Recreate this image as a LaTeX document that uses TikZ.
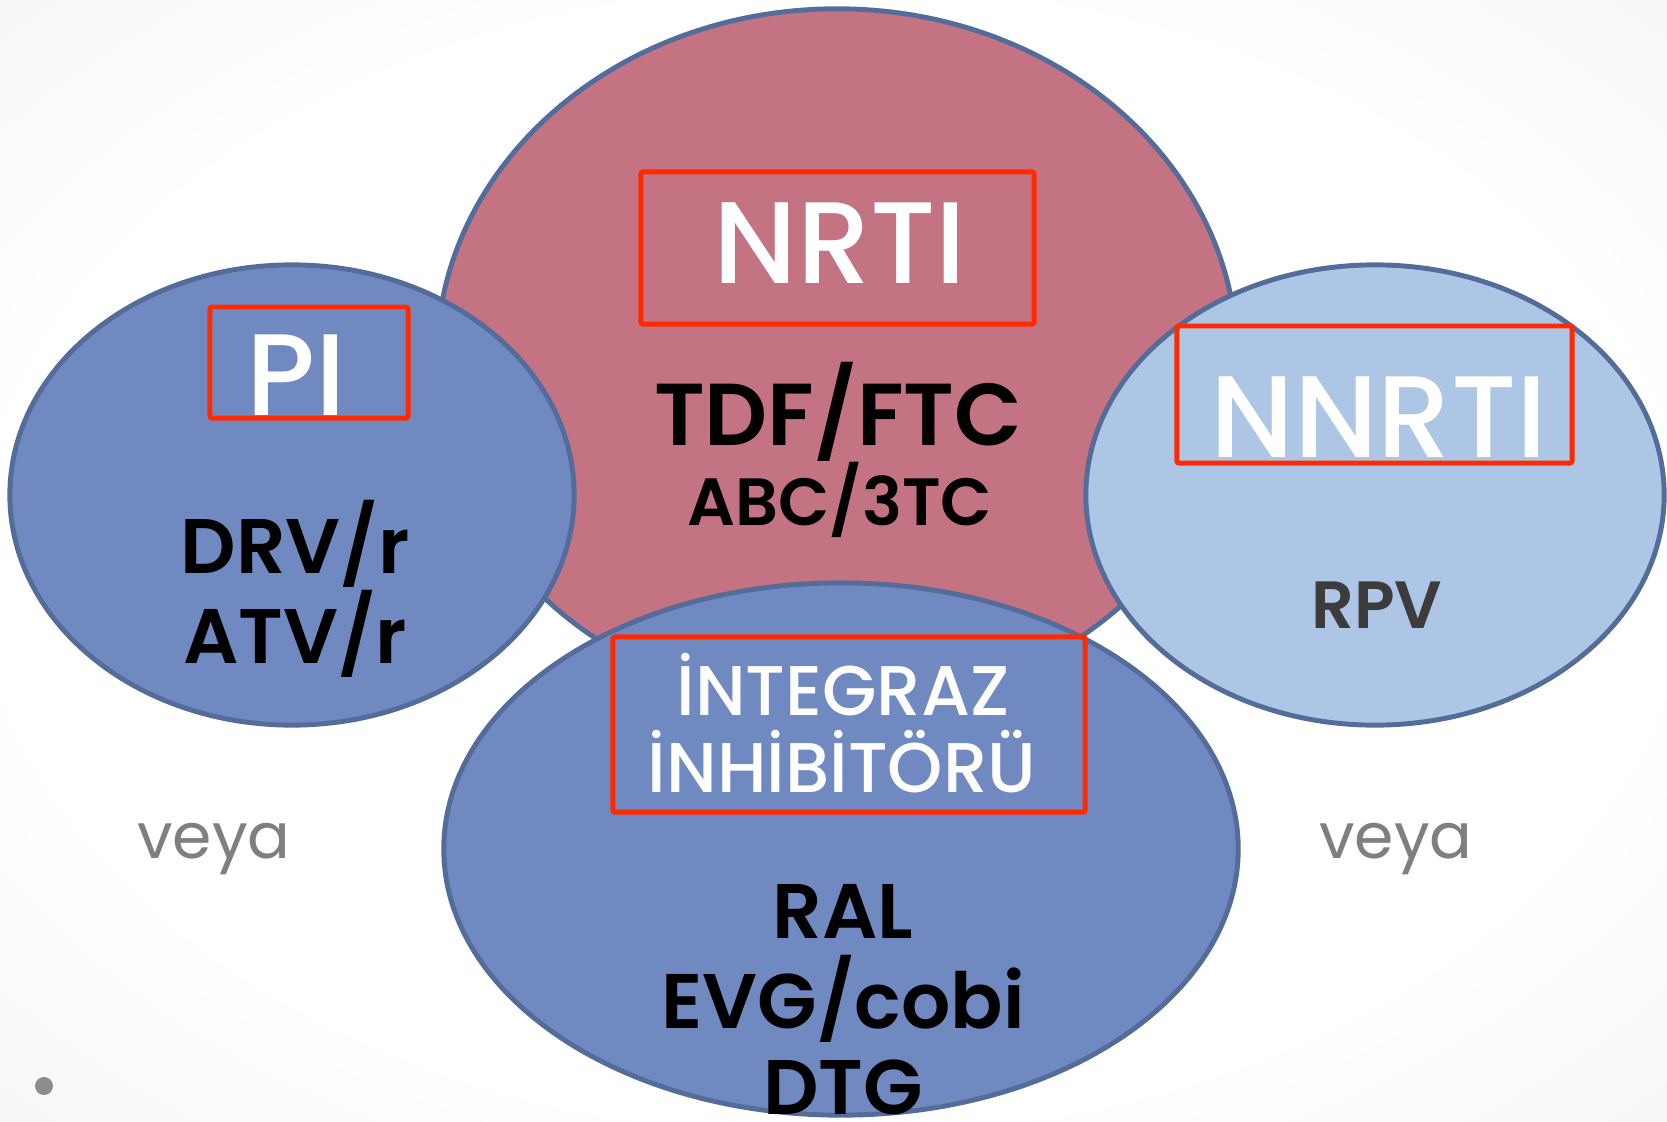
\documentclass[tikz,border=0pt]{standalone}
\usepackage{fontspec}
\setmainfont{Poppins}
\newfontfamily\medfont{Poppins Medium}
\newfontfamily\semifont{Poppins SemiBold}
\usetikzlibrary{shapes.geometric}
\definecolor{pinkE}{HTML}{C47383}
\definecolor{blueE}{HTML}{7189C1}
\definecolor{lightE}{HTML}{AEC6E6}
\definecolor{edgeE}{HTML}{546C99}
\definecolor{redB}{HTML}{FF2A00}
\definecolor{darkT}{HTML}{3C3C3C}
\definecolor{veyaT}{HTML}{7F7F7F}
\definecolor{dotC}{HTML}{8C8C8C}
\pgfdeclareradialshading{slidebg}{\pgfpoint{0bp}{0bp}}{color(0bp)=(white); color(25bp)=(white); color(50bp)=(black!7); color(71bp)=(black!16)}
\begin{document}
\begin{tikzpicture}[x=0.01cm,y=-0.01cm,
  blob/.style={ellipse, draw=edgeE, line width=1.4pt, inner sep=0pt, outer sep=0pt},
  redbox/.style={rectangle, draw=redB, line width=1.4pt, inner sep=0pt, rounded corners=0.6pt},
  head/.style={anchor=base, text=white, inner sep=0pt, font=\medfont\fontsize{33}{33}\selectfont},
  headsmall/.style={anchor=base, text=white, inner sep=0pt, font=\medfont\fontsize{20}{20}\selectfont},
  drug/.style={anchor=base, text=black, inner sep=0pt, font=\semifont\fontsize{#1}{#1}\selectfont},
  veyatxt/.style={anchor=base, text=veyaT, inner sep=0pt, font=\fontsize{18}{18}\selectfont}]
\shade[shading=slidebg] (0,0) rectangle (1667,1121);
\useasboundingbox (0,0) rectangle (1667,1121);
\begin{scope}
\clip (0,0) rectangle (1667,1121);
% ellipses
\node[blob, fill=pinkE, minimum width=8.00cm, minimum height=7.00cm] (topE) at (837,359) {};
\node[blob, fill=blueE, minimum width=5.64cm, minimum height=4.60cm] (leftE) at (292,495) {};
\node[blob, fill=lightE, minimum width=5.78cm, minimum height=4.60cm] (rightE) at (1375,495) {};
\node[blob, fill=blueE, minimum width=7.94cm, minimum height=5.32cm] (botE) at (841,849) {};
% texts
\node[head] (nrti) at (840,283) {NRTI};
\node[drug=25] (tdf) at (838,445) {TDF/FTC};
\node[drug=19] (abc) at (840,525) {ABC/3TC};
\node[head] (pi) at (296,415) {PI};
\node[drug=22] (drv) at (295,573) {DRV/r};
\node[drug=22] (atv) at (295,663) {ATV/r};
\node[head] (nnrti) at (1379,457) {NNRTI};
\node[drug=19, text=darkT] (rpv) at (1377,628) {RPV};
\node[headsmall] (int1) at (843,715) {İNTEGRAZ};
\node[headsmall] (int2) at (842,792) {İNHİBİTÖRÜ};
\node[drug=22] (ral) at (843,938) {RAL};
\node[drug=22] (evg) at (843,1028) {EVG/cobi};
\node[drug=22] (dtg) at (843,1114) {DTG};
% red boxes
\node[redbox, minimum width=3.93cm, minimum height=1.52cm] (nrtiBox) at (837.5,248) {};
\node[redbox, minimum width=1.98cm, minimum height=1.11cm] (piBox) at (309,362.5) {};
\node[redbox, minimum width=3.95cm, minimum height=1.37cm] (nnrtiBox) at (1374.5,394.5) {};
\node[redbox, minimum width=4.72cm, minimum height=1.75cm] (intBox) at (849,724.5) {};
% veya
\node[veyatxt] (veyaL) at (214,858) {veya};
\node[veyatxt] (veyaR) at (1396,858) {veya};
% bullet
\node[circle, fill=dotC, inner sep=0pt, minimum size=0.18cm] (dot) at (44,1086) {};
\end{scope}
\end{tikzpicture}
\end{document}
